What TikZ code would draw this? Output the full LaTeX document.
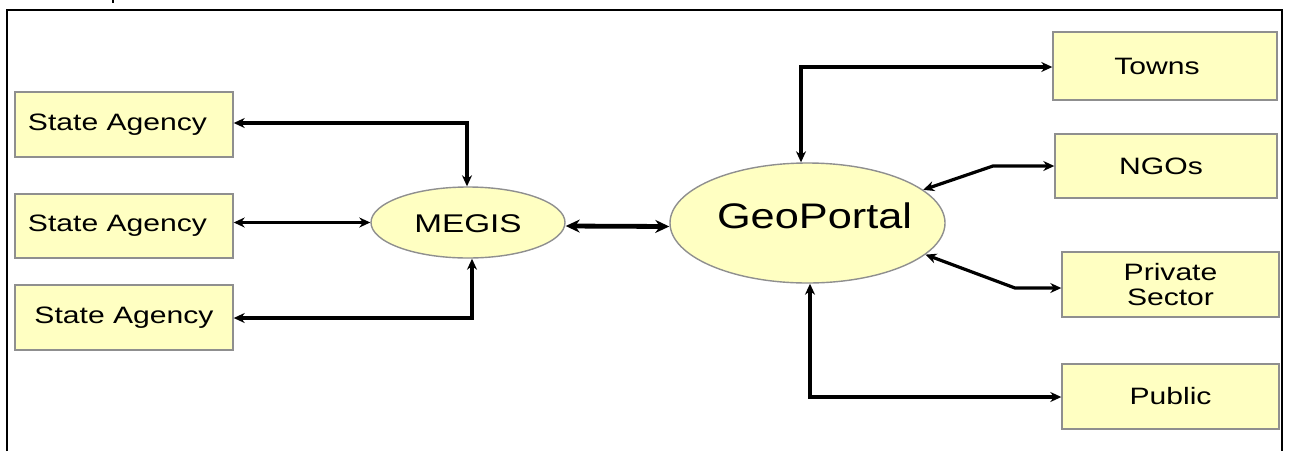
\documentclass[tikz,border=0pt]{standalone}
\usepackage{fontspec}
\usepackage{graphicx}
\setmainfont{Liberation Sans}
\usetikzlibrary{arrows.meta,shapes.geometric,calc}
\definecolor{boxfill}{HTML}{FFFFC2}
\definecolor{boxline}{HTML}{8F8F8F}
\newcommand{\wtxt}[2][1.27]{\scalebox{#1}[1]{#2}}
\begin{document}
\begin{tikzpicture}[x=1pt,y=-1pt,
  rbox/.style={draw=boxline,line width=1.4pt,fill=boxfill,rectangle,inner sep=0pt,align=center,font=\fontsize{23.7}{25}\selectfont},
  ebox/.style={draw=boxline,line width=1.4pt,fill=boxfill,ellipse,inner sep=0pt},
  arr/.style={line width=3.2pt,{Stealth[length=11pt,width=10pt]}-{Stealth[length=11pt,width=10pt]}},
  bigarr/.style={line width=4.8pt,{Stealth[length=14pt,width=13pt]}-{Stealth[length=14pt,width=13pt]}},
  frame/.style={line width=2.8pt}
]
\useasboundingbox (0,0) rectangle (1290,451);
\draw[frame] (7,451) -- (7,10) -- (1282,10) -- (1282,451);
\draw[line width=2.4pt] (113,0) -- (113,3);

% left boxes
\node[rbox,minimum width=218,minimum height=65] (sa1) at (124,124.5) {\wtxt{State Agency}\hspace{13pt}};
\node[rbox,minimum width=218,minimum height=64] (sa2) at (124,226) {\wtxt{State Agency}\hspace{13pt}};
\node[rbox,minimum width=218,minimum height=65] (sa3) at (124,317.5) {\wtxt{State Agency}};

% ellipses
\node[ebox,minimum width=194,minimum height=71,font=\fontsize{25.6}{28}\selectfont] (megis) at (468,222.5)
  {\makebox[0pt]{\raisebox{-9.5pt}[0pt][0pt]{\wtxt[1.3]{MEGIS}}}};
\node[ebox,minimum width=275,minimum height=120,font=\fontsize{35.5}{38}\selectfont] (geo) at (807.5,223)
  {\makebox[0pt]{\hspace{14pt}\raisebox{-5pt}[0pt][0pt]{\wtxt[1.22]{GeoPortal}}}};

% right boxes
\node[rbox,minimum width=224,minimum height=68] (towns) at (1165,66) {\wtxt{Towns}\hspace{16pt}};
\node[rbox,minimum width=222,minimum height=64] (ngos) at (1166,166) {\wtxt{NGOs}\hspace{10pt}};
\node[rbox,minimum width=217,minimum height=65] (priv) at (1170.5,284.5) {\wtxt{Private}\\\wtxt{Sector}};
\node[rbox,minimum width=217,minimum height=65] (pub) at (1170.5,396.5) {\wtxt{Public}};

% left connectors
\coordinate (c1) at (467,123);
\draw[arr] (c1 -| sa1.east) -- (c1) -- (c1 |- megis.north);
\draw[arr] (megis.west -| sa2.east) -- (megis.west);
\coordinate (c3) at (472,318);
\draw[arr] (c3 -| sa3.east) -- (c3) -- (c3 |- megis.south);

% center
\draw[bigarr] ([yshift=-3.5pt]megis.east) -- ([yshift=-3.5pt]geo.west);

% right connectors
\coordinate (t1) at (801,67);
\draw[arr] (t1 |- geo.north) -- (t1) -- (t1 -| towns.west);
\coordinate (n1) at (993,166);
\draw[arr] (geo.16) -- (n1) -- (ngos.west);
\coordinate (p1) at (1015,288);
\draw[arr] (geo.-15) -- (p1) -- (p1 -| priv.west);
\coordinate (q1) at (810,397);
\draw[arr] (q1 |- geo.south) -- (q1) -- (q1 -| pub.west);
\end{tikzpicture}
\end{document}
